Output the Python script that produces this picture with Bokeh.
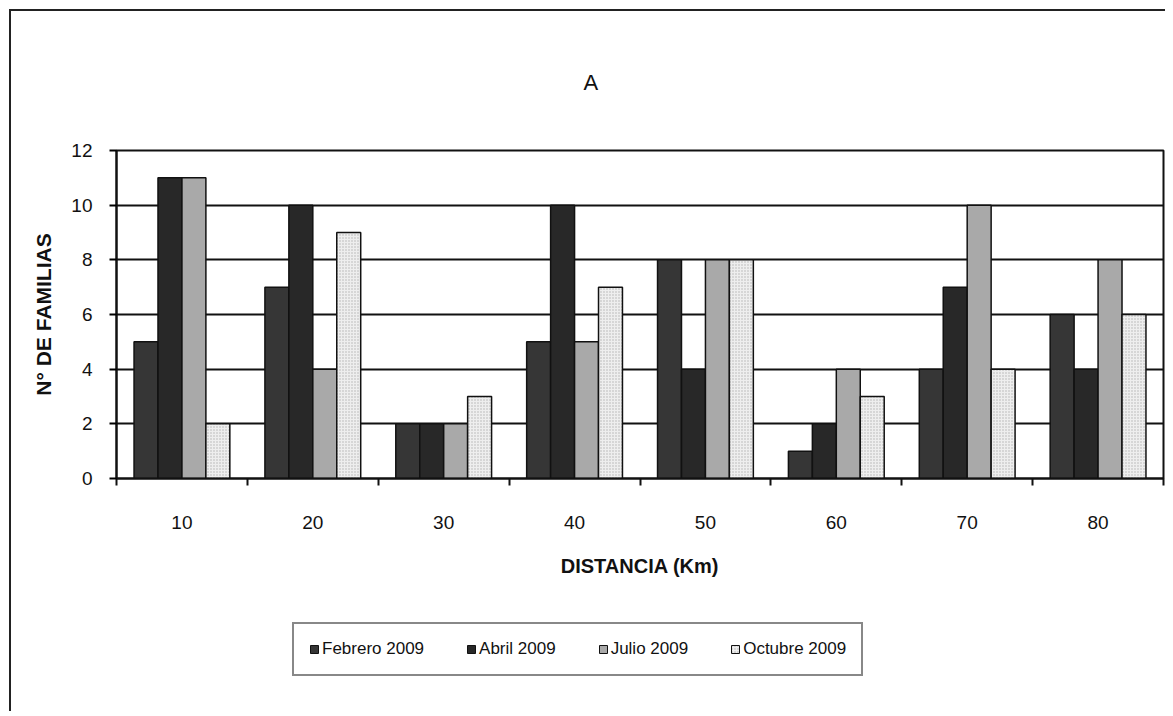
import numpy as np
from bokeh.plotting import figure
from bokeh.layouts import column
from bokeh.models import (Range1d, FixedTicker, Legend, LegendItem, SingleIntervalTicker)
from bokeh.embed import file_html
from bokeh.resources import INLINE

categories = ["10", "20", "30", "40", "50", "60", "70", "80"]
febrero = [5, 7, 2, 5, 8, 1, 4, 6]
abril = [11, 10, 2, 10, 4, 2, 7, 4]
julio = [11, 4, 2, 5, 8, 4, 10, 8]
octubre = [2, 9, 3, 7, 8, 3, 4, 6]
series_names = ["Febrero 2009", "Abril 2009", "Julio 2009", "Octubre 2009"]
series = [febrero, abril, julio, octubre]
fills = ["#363636", "#282828", "#a9a9a9", "#eeeeee"]

FONT = "'Liberation Sans', Arial, sans-serif"
W = 1154

p = figure(width=W, height=589, output_backend="svg", toolbar_location=None,
           x_range=Range1d(0, len(categories)), y_range=Range1d(0, 12),
           min_border_left=105, min_border_right=2, min_border_top=139,
           min_border_bottom=122, title="A")
p.outline_line_color = "#111"
p.outline_line_width = 2
p.background_fill_color = "white"
p.border_fill_color = "white"

p.title.text_font = FONT
p.title.text_font_size = "22px"
p.title.text_font_style = "normal"
p.title.text_color = "#111"
p.title.align = "left"
p.title.offset = 467
p.title.standoff = 111

centers = np.arange(len(categories)) + 0.5
bw = 0.183
offsets = [-1.5 * bw, -0.5 * bw, 0.5 * bw, 1.5 * bw]


def style_kw(col):
    if col == "#eeeeee":
        return dict(hatch_pattern=".", hatch_color="#888888", hatch_scale=3, hatch_alpha=0.6)
    return {}


for vals, off, col in zip(series, offsets, fills):
    p.vbar(x=centers + off, top=vals, width=bw, fill_color=col,
           line_color="#111111", line_width=1.5, **style_kw(col))

# grid
p.xgrid.grid_line_color = None
p.ygrid.grid_line_color = "#111111"
p.ygrid.grid_line_width = 2
p.ygrid.ticker = SingleIntervalTicker(interval=2)

# y axis
p.yaxis.ticker = SingleIntervalTicker(interval=2)
p.yaxis.axis_line_color = "#111"
p.yaxis.axis_line_width = 2
p.yaxis.major_tick_in = 0
p.yaxis.major_tick_out = 7
p.yaxis.major_tick_line_width = 2
p.yaxis.minor_tick_line_color = None
p.yaxis.major_label_text_font = FONT
p.yaxis.major_label_text_font_size = "19px"
p.yaxis.major_label_text_color = "#111"
p.yaxis.major_label_standoff = 17
p.yaxis.axis_label = "N° DE FAMILIAS"
p.yaxis.axis_label_text_font = FONT
p.yaxis.axis_label_text_font_style = "bold"
p.yaxis.axis_label_text_font_size = "21px"
p.yaxis.axis_label_text_color = "#111"
p.yaxis.axis_label_standoff = 13

# x axis
p.xaxis.ticker = FixedTicker(ticks=list(centers), minor_ticks=list(range(len(categories) + 1)))
p.xaxis.major_label_overrides = {float(c): lab for c, lab in zip(centers, categories)}
p.xaxis.axis_line_color = "#111"
p.xaxis.axis_line_width = 2
p.xaxis.major_tick_line_color = None
p.xaxis.major_tick_in = 0
p.xaxis.major_tick_out = 6
p.xaxis.minor_tick_in = 0
p.xaxis.minor_tick_out = 7
p.xaxis.minor_tick_line_width = 2
p.xaxis.minor_tick_line_color = "#111"
p.xaxis.major_label_text_font = FONT
p.xaxis.major_label_text_font_size = "19px"
p.xaxis.major_label_text_color = "#111"
p.xaxis.major_label_standoff = 30
p.xaxis.axis_label = "DISTANCIA (Km)"
p.xaxis.axis_label_text_font = FONT
p.xaxis.axis_label_text_font_style = "bold"
p.xaxis.axis_label_text_font_size = "20px"
p.xaxis.axis_label_text_color = "#111"
p.xaxis.axis_label_standoff = 23

# legend figure (its swatch bars sit entirely outside its visible range)
pl = figure(width=W, height=111, output_backend="svg", toolbar_location=None,
            x_range=Range1d(100, 101), y_range=Range1d(50, 51),
            min_border=0, x_axis_type=None, y_axis_type=None)
pl.outline_line_color = None
pl.grid.grid_line_color = None
pl.background_fill_color = "white"
pl.border_fill_color = "white"
lrs = []
for vals, off, col in zip(series, offsets, fills):
    lrs.append(pl.vbar(x=centers + off, top=vals, width=bw, fill_color=col,
                       line_color="#111111", line_width=1, **style_kw(col)))

legend = Legend(items=[LegendItem(label=n, renderers=[r]) for n, r in zip(series_names, lrs)],
                orientation="horizontal", location=(176, 35))
legend.label_text_font = FONT
legend.label_text_font_size = "17px"
legend.label_text_color = "#111"
legend.glyph_width = 10
legend.glyph_height = 10
legend.label_standoff = 3
legend.spacing = 42
legend.padding = 15
legend.margin = 0
legend.border_line_color = "#111"
legend.border_line_width = 2
legend.background_fill_color = "white"
legend.label_height = 20
pl.add_layout(legend, "center")

layout = column(p, pl, spacing=0,
                styles={"border-left": "2px solid #222", "border-top": "2px solid #222",
                        "margin-left": "9px", "margin-top": "9px"})

open("out.html", "w").write(file_html(layout, INLINE))
